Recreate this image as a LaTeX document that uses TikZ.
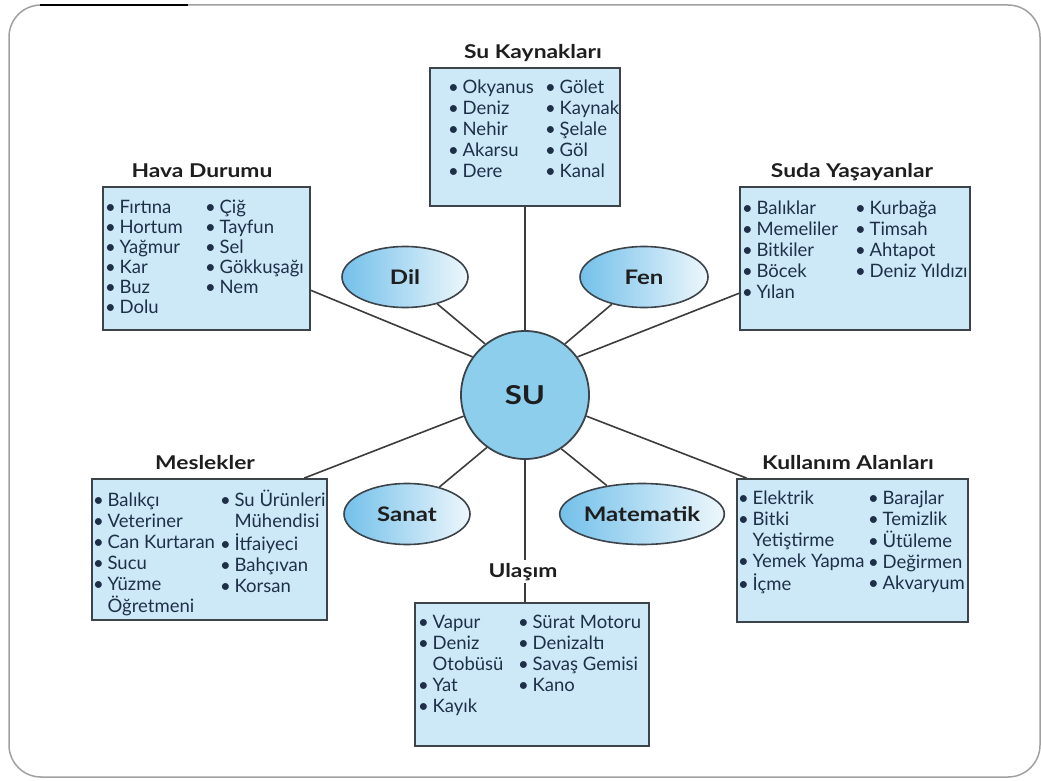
\documentclass[tikz,border=0pt]{standalone}
\usepackage{fontspec}
\setmainfont{Lato}
\newfontfamily\titlefont[FakeStretch=1.2]{Lato}
\usetikzlibrary{shapes.geometric,backgrounds,calc}
\definecolor{boxfill}{RGB}{205,232,247}
\definecolor{boxdraw}{RGB}{60,68,74}
\definecolor{txtc}{RGB}{30,48,72}
\definecolor{titlec}{RGB}{30,30,30}
\definecolor{linec}{RGB}{60,60,60}
\definecolor{circfill}{RGB}{140,206,236}
\definecolor{ellL}{RGB}{115,192,234}
\definecolor{ellR}{RGB}{238,247,252}
\definecolor{framec}{RGB}{160,160,160}
\newcommand\bl{\textbullet\hspace{0.2em}}
\newcommand\ind{\hphantom{\textbullet\hspace{0.2em}}}
\newcommand\lst[1]{\begin{tabular}[t]{@{}l@{}}#1\end{tabular}}
\tikzset{
  boxnode/.style={draw=boxdraw, fill=boxfill, line width=1.8pt, inner sep=0pt, rectangle},
  titlenode/.style={anchor=base, inner sep=1pt, text=titlec, font=\fontsize{19}{21}\titlefont\bfseries},
  colnode/.style={anchor=base west, inner sep=0pt, text=txtc, font=\fontsize{18.5}{21}\selectfont},
  ellnode/.style={ellipse, draw=boxdraw, line width=1.6pt, left color=ellL, right color=ellR, inner sep=0pt, minimum height=61pt, text=titlec, font=\fontsize{20}{22}\titlefont\bfseries},
  conn/.style={draw=linec, line width=1.6pt},
}
\begin{document}
\begin{tikzpicture}[x=1pt,y=-1pt]
\useasboundingbox (0,0) rectangle (1041,781);
% central circle
\node[circle, draw=boxdraw, fill=circfill, line width=1.8pt, minimum size=128pt, inner sep=0pt, text=titlec, font=\fontsize{26}{28}\titlefont\bfseries] (su) at (525,395) {SU};
% ellipses
\node[ellnode, minimum width=126pt] (dil) at (405,277) {Dil};
\node[ellnode, minimum width=128pt] (fen) at (644,277) {Fen};
\node[ellnode, minimum width=126pt] (sanat) at (407,514) {Sanat};
\node[ellnode, minimum width=128pt] (mat) at (642,514) {Matematik};
% boxes
\node[boxnode, minimum width=190pt, minimum height=138pt] (kayn) at (525,137) {};
\node[boxnode, minimum width=207pt, minimum height=143pt] (hava) at (206.5,258.5) {};
\node[boxnode, minimum width=230pt, minimum height=143pt] (suda) at (855,258.5) {};
\node[boxnode, minimum width=235pt, minimum height=141pt] (mesl) at (209.5,549.5) {};
\node[boxnode, minimum width=231pt, minimum height=143pt] (kull) at (852.5,550.5) {};
\node[boxnode, minimum width=234pt, minimum height=143pt] (ulas) at (532,674.5) {};
% titles
\node[titlenode] (tkayn) at (533,59) {Su Kaynakları};
\node[titlenode] (thava) at (202,177) {Hava Durumu};
\node[titlenode] (tsuda) at (852,177) {Suda Yaşayanlar};
\node[titlenode] (tmesl) at (205,469) {Meslekler};
\node[titlenode] (tkull) at (848,469) {Kullanım Alanları};
\node[titlenode, fill=white, inner sep=3pt] (tulas) at (523,577) {Ulaşım};
% box contents
\node[colnode] (kayn1) at (448,94) {\lst{\bl Okyanus\\ \bl Deniz\\ \bl Nehir\\ \bl Akarsu\\ \bl Dere}};
\node[colnode] (kayn2) at (545,94) {\lst{\bl Gölet\\ \bl Kaynak\\ \bl Şelale\\ \bl Göl\\ \bl Kanal}};
\node[colnode, font=\fontsize{18.5}{20}\selectfont] (hava1) at (105,213) {\lst{\bl Fırtına\\ \bl Hortum\\ \bl Yağmur\\ \bl Kar\\ \bl Buz\\ \bl Dolu}};
\node[colnode, font=\fontsize{18.5}{20}\selectfont] (hava2) at (205,213) {\lst{\bl Çiğ\\ \bl Tayfun\\ \bl Sel\\ \bl Gökkuşağı\\ \bl Nem}};
\node[colnode] (suda1) at (742,214) {\lst{\bl Balıklar\\ \bl Memeliler\\ \bl Bitkiler\\ \bl Böcek\\ \bl Yılan}};
\node[colnode] (suda2) at (855,214) {\lst{\bl Kurbağa\\ \bl Timsah\\ \bl Ahtapot\\ \bl Deniz Yıldızı}};
\node[colnode] (mesl1) at (93,506) {\lst{\bl Balıkçı\\ \bl Veteriner\\ \bl Can Kurtaran\\ \bl Sucu\\ \bl Yüzme\\ \ind Öğretmeni}};
\node[colnode] (mesl2) at (220,506) {\lst{\bl Su Ürünleri\\ \ind Mühendisi\\ \bl İtfaiyeci\\ \bl Bahçıvan\\ \bl Korsan}};
\node[colnode] (kull1) at (738,504) {\lst{\bl Elektrik\\ \bl Bitki\\ \ind Yetiştirme\\ \bl Yemek Yapma\\ \bl İçme}};
\node[colnode] (kull2) at (868,504) {\lst{\bl Barajlar\\ \bl Temizlik\\ \bl Ütüleme\\ \bl Değirmen\\ \bl Akvaryum}};
\node[colnode] (ulas1) at (418,628) {\lst{\bl Vapur\\ \bl Deniz\\ \ind Otobüsü\\ \bl Yat\\ \bl Kayık}};
\node[colnode] (ulas2) at (518,628) {\lst{\bl Sürat Motoru\\ \bl Denizaltı\\ \bl Savaş Gemisi\\ \bl Kano}};
% background: frame and connectors
\begin{scope}[on background layer]
\draw[framec, line width=1.5pt, rounded corners=32pt] (9,5) rectangle (1040,777);
\draw[black, line width=1.8pt] (40,5) -- (188,5);
\draw[conn] (su.north) -- (kayn.south);
\draw[conn] (su.144) -- ($(hava.north east)!0.72!(hava.south east)$);
\draw[conn] (su.36) -- ($(suda.north west)!0.74!(suda.south west)$);
\draw[conn] (su.199) -- ($(mesl.north west)!0.9!(mesl.north east)$);
\draw[conn] (su.341) -- ($(kull.north west)!0.045!(kull.north east)$);
\draw[conn] (su.128) -- (dil);
\draw[conn] (su.52) -- (fen);
\draw[conn] (su.234) -- (sanat);
\draw[conn] (su.304) -- (mat);
\draw[conn] (su.south) -- (su.south |- ulas.north);
\end{scope}
\end{tikzpicture}
\end{document}
